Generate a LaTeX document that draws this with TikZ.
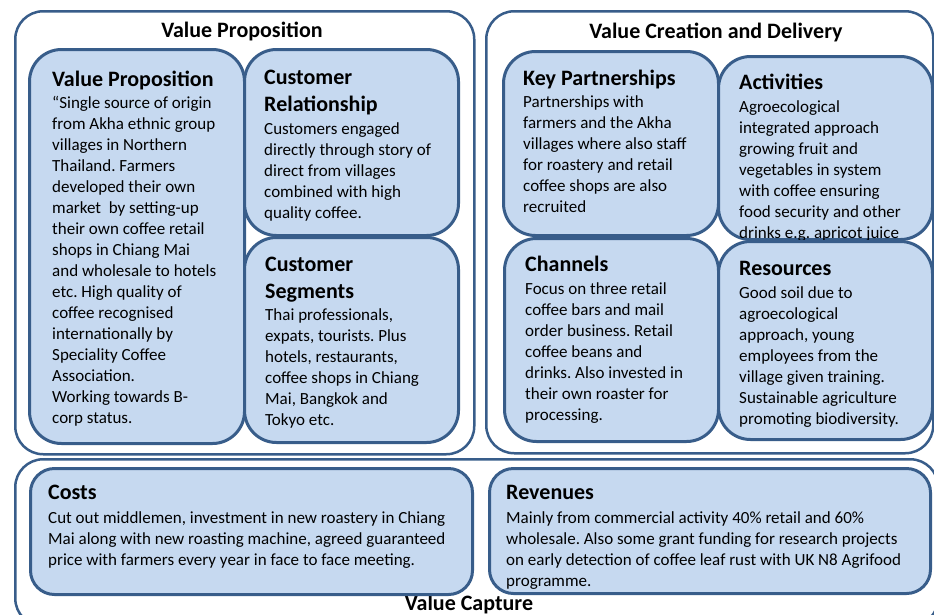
\documentclass[tikz,border=0pt]{standalone}
\usepackage{fontspec}
\setmainfont{Carlito}
\usepackage{tikz}
\usetikzlibrary{positioning}
\usepackage{xcolor}
\frenchspacing
\definecolor{bmcblue}{RGB}{56,93,138}
\definecolor{bmclightblue}{RGB}{198,217,240}
\tikzstyle{groupbox} = [rectangle, rounded corners=28pt, draw=bmcblue, line width=2.5pt, anchor=north west, inner sep=0pt]
\tikzstyle{blockbox} = [rectangle, rounded corners=32pt, draw=bmcblue, fill=bmclightblue, line width=3pt, anchor=north west, inner sep=0pt]
\tikzstyle{grouptitle} = [anchor=base, inner sep=0pt, font=\fontsize{22}{27}\selectfont\bfseries]
\tikzstyle{blocktitle} = [anchor=base west, inner sep=0pt, align=left, font=\fontsize{22}{27}\selectfont\bfseries]
\tikzstyle{blocktext} = [anchor=base west, inner sep=0pt, align=left, font=\fontsize{17}{21}\selectfont]

\begin{document}
\begin{tikzpicture}[x=1pt, y=-1pt]
\useasboundingbox (0,0) rectangle (934,614);
% text nodes sit on the baseline of their last line

% Groups
\node[groupbox, minimum width=459pt, minimum height=443pt] (vpgroup) at (14,10) {};
\node[groupbox, minimum width=447pt, minimum height=442pt] (vcgroup) at (485,10) {};
\node[groupbox, minimum width=923pt, minimum height=167pt] (capgroup) at (14,458) {};
\node[grouptitle] (vpgrouptitle) at (242,37) {Value Proposition};
\node[grouptitle] (vcgrouptitle) at (716,38) {Value Creation and Delivery};
\node[grouptitle] (capgrouptitle) at (469,610) {Value Capture};

% Value proposition
\node[blockbox, minimum width=215pt, minimum height=394pt] (vp) at (28,48) {};
\node[blocktitle] (vptitle) at (52,86) {Value Proposition};
\node[blocktext] (vptext) at (52,423) {“Single source of origin\\from Akha ethnic group\\villages in Northern\\Thailand. Farmers\\developed their own\\market\ \ by setting-up\\their own coffee retail\\shops in Chiang Mai\\and wholesale to hotels\\etc. High quality of\\coffee recognised\\internationally by\\Speciality Coffee\\Association.\\Working towards B-\\corp status.};

% Customers
\node[blockbox, minimum width=214pt, minimum height=186pt] (cr) at (243,48) {};
\node[blocktitle] (crtitle) at (264,111) {Customer\\Relationship};
\node[blocktext] (crtext) at (264,218) {Customers engaged\\directly through story of\\direct from villages\\combined with high\\quality coffee.};
\node[blockbox, minimum width=214pt, minimum height=205pt] (cs) at (243,236) {};
\node[blocktitle] (cstitle) at (265,298) {Customer\\Segments};
\node[blocktext] (cstext) at (265,425) {Thai professionals,\\expats, tourists. Plus\\hotels, restaurants,\\coffee shops in Chiang\\Mai, Bangkok and\\Tokyo etc.};

% Creation and delivery
\node[blockbox, minimum width=215pt, minimum height=184pt] (kp) at (502,50) {};
\node[blocktitle] (kptitle) at (523,85) {Key Partnerships};
\node[blocktext] (kptext) at (523,212) {Partnerships with\\farmers and the Akha\\villages where also staff\\for roastery and retail\\coffee shops are also\\recruited};
\node[blockbox, minimum width=214pt, minimum height=183pt] (act) at (717,55) {};
\node[blocktitle] (acttitle) at (739,89) {Activities};
\node[blocktext] (acttext) at (739,238) {Agroecological\\integrated approach\\growing fruit and\\vegetables in system\\with coffee ensuring\\food security and other\\drinks e.g. apricot juice};
\node[blockbox, minimum width=214pt, minimum height=203pt] (ch) at (503,237) {};
\node[blocktitle] (chtitle) at (525,271) {Channels};
\node[blocktext] (chtext) at (525,420) {Focus on three retail\\coffee bars and mail\\order business. Retail\\coffee beans and\\drinks. Also invested in\\their own roaster for\\processing.};
\node[blockbox, minimum width=214pt, minimum height=198pt] (res) at (717,240) {};
\node[blocktitle] (restitle) at (739,275) {Resources};
\node[blocktext] (restext) at (739,424) {Good soil due to\\agroecological\\approach, young\\employees from the\\village given training.\\Sustainable agriculture\\promoting biodiversity.};

% Capture
\node[blockbox, rounded corners=24pt, minimum width=442pt, minimum height=126pt] (costs) at (29,467) {};
\node[blocktitle] (coststitle) at (48,499) {Costs};
\node[blocktext] (coststext) at (48,565) {Cut out middlemen, investment in new roastery in Chiang\\Mai along with new roasting machine, agreed guaranteed\\price with farmers every year in face to face meeting.};
\node[blockbox, rounded corners=24pt, minimum width=441pt, minimum height=125pt] (rev) at (488,467) {};
\node[blocktitle] (revtitle) at (506,499) {Revenues};
\node[blocktext] (revtext) at (506,586) {Mainly from commercial activity 40\% retail and 60\%\\wholesale. Also some grant funding for research projects\\on early detection of coffee leaf rust with UK N8 Agrifood\\programme.};
\end{tikzpicture}
\end{document}
